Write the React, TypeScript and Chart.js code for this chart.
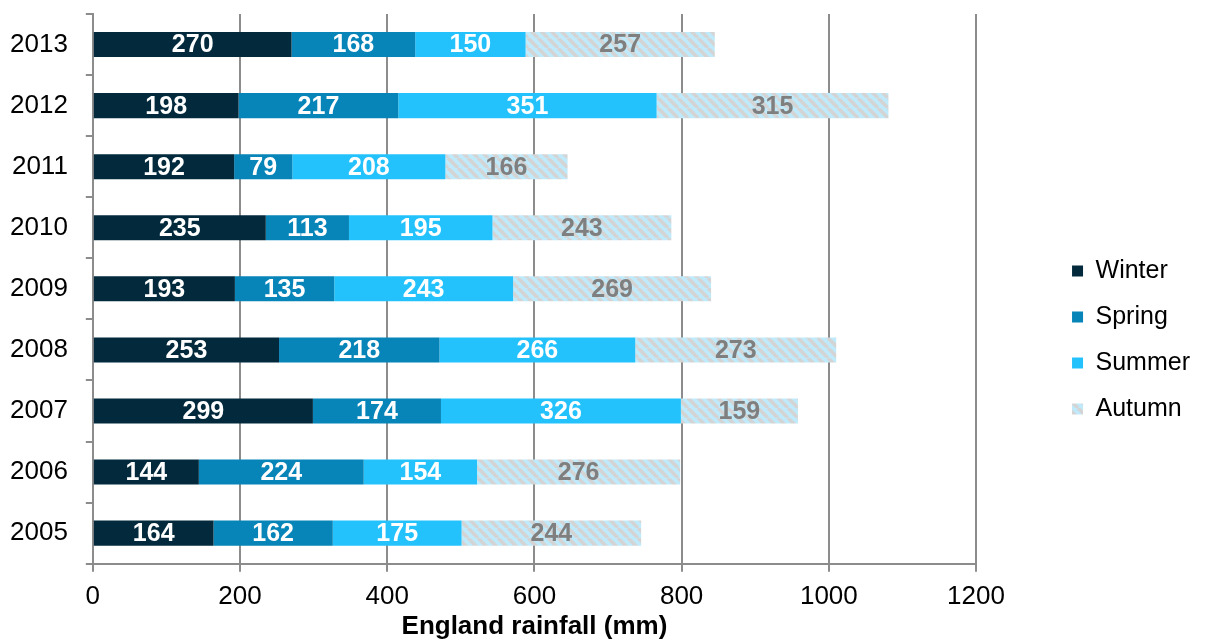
import { useEffect, useRef } from "react";
import { Chart, registerables } from "chart.js";

Chart.register(...registerables);

// Seasonal rainfall totals for England, mm
const years = ["2005", "2006", "2007", "2008", "2009", "2010", "2011", "2012", "2013"];
const winter = [164, 144, 299, 253, 193, 235, 192, 198, 270];
const spring = [162, 224, 174, 218, 135, 113, 79, 217, 168];
const summer = [175, 154, 326, 266, 243, 195, 208, 351, 150];
const autumn = [244, 276, 159, 273, 269, 243, 166, 315, 257];
const seasonNames = ["Winter", "Spring", "Summer", "Autumn"];
const axisTitle = "England rainfall (mm)";
const xMax = 1200;
const xStep = 200;

const FONT = "'Liberation Sans', Arial, Helvetica, sans-serif";
const GRID = "#8c8c8c";

// Light blue fill with grey diagonal stripes for the autumn segments
function makeHatch(): CanvasPattern | string {
  const s = 10;
  const c = document.createElement("canvas");
  c.width = s;
  c.height = s;
  const g = c.getContext("2d");
  if (!g) return "#c8ecf9";
  g.fillStyle = "#bfeafb";
  g.fillRect(0, 0, s, s);
  g.strokeStyle = "#d4d4d4";
  g.lineWidth = 3.6;
  g.beginPath();
  for (const o of [-s, 0, s]) {
    g.moveTo(o, 0);
    g.lineTo(o + s, s);
  }
  g.stroke();
  return g.createPattern(c, "repeat") || "#c8ecf9";
}

// Writes each segment's value in the middle of its bar
const valueLabels = {
  id: "valueLabels",
  afterDatasetsDraw(chart: any) {
    const ctx = chart.ctx;
    ctx.save();
    ctx.font = `bold 25px ${FONT}`;
    ctx.textAlign = "center";
    ctx.textBaseline = "middle";
    chart.data.datasets.forEach((ds: any, i: number) => {
      const meta = chart.getDatasetMeta(i);
      ctx.fillStyle = i === 3 ? "#7f7f7f" : "#ffffff";
      meta.data.forEach((bar: any, j: number) => {
        ctx.fillText(String(ds.data[j]), (bar.x + bar.base) / 2, bar.y + 1);
      });
    });
    ctx.restore();
  },
};

// Moves the legend block slightly down from the vertical centre
const legendNudge = {
  id: "legendNudge",
  afterLayout(chart: any) {
    const l = chart.legend;
    if (l) {
      l.top += 12;
      l.bottom += 12;
    }
  },
};

export default function App() {
  const ref = useRef<HTMLCanvasElement | null>(null);

  useEffect(() => {
    document.documentElement.style.overflow = "hidden";
    document.body.style.overflow = "hidden";
    if (!ref.current) return;
    const hatch = makeHatch();
    const seriesData = [winter, spring, summer, autumn];
    const fills: (string | CanvasPattern)[] = ["#032a3c", "#0784b8", "#24c2fc", hatch];

    const chart = new Chart(ref.current, {
      type: "bar",
      data: {
        labels: years,
        datasets: seasonNames.map((name, i) => ({
          label: name,
          data: seriesData[i],
          backgroundColor: fills[i] as any,
          borderWidth: 0,
          barPercentage: 0.41,
          categoryPercentage: 1,
        })),
      },
      options: {
        indexAxis: "y",
        animation: false,
        responsive: true,
        maintainAspectRatio: false,
        layout: { padding: { top: 6, left: 2, right: 0, bottom: 0 } },
        scales: {
          x: {
            stacked: true,
            min: 0,
            max: xMax,
            ticks: {
              stepSize: xStep,
              color: "#000",
              padding: 0,
              font: { family: FONT, size: 26, lineHeight: 1.92 },
              callback: (v: any) => String(v),
            },
            grid: { color: GRID, lineWidth: 2, tickLength: 8 },
            border: { color: GRID, width: 2 },
            title: {
              display: true,
              text: axisTitle,
              color: "#000",
              font: { family: FONT, size: 26, weight: "bold", lineHeight: 0.4 },
              padding: { top: 0, bottom: 10 },
            },
          },
          y: {
            stacked: true,
            reverse: true,
            ticks: {
              color: "#000",
              padding: 0,
              font: { family: FONT, size: 26, lineHeight: 0.4 },
            },
            grid: {
              offset: true,
              drawOnChartArea: false,
              color: GRID,
              lineWidth: 2,
              tickLength: 25,
              // tick marks are drawn from the outer end inwards: 18px gap, then 7px visible next to the axis
              tickBorderDash: [0, 18, 7, 0],
            },
            border: { color: GRID, width: 2 },
          },
          gap: {
            type: "linear",
            position: "right",
            display: true,
            ticks: { display: false },
            grid: { display: false },
            border: { display: false },
            afterFit: (s: any) => {
              s.width = 75;
            },
          },
        } as any,
        plugins: {
          legend: {
            position: "right",
            labels: {
              boxWidth: 11,
              boxHeight: 11,
              padding: 21,
              color: "#000",
              font: { family: FONT, size: 25 },
            },
          },
          tooltip: { enabled: false },
        },
      },
      plugins: [valueLabels, legendNudge],
    });
    return () => chart.destroy();
  }, []);

  return (
    <div style={{ width: 1192, height: 634, position: "relative" }}>
      <canvas ref={ref} />
    </div>
  );
}
